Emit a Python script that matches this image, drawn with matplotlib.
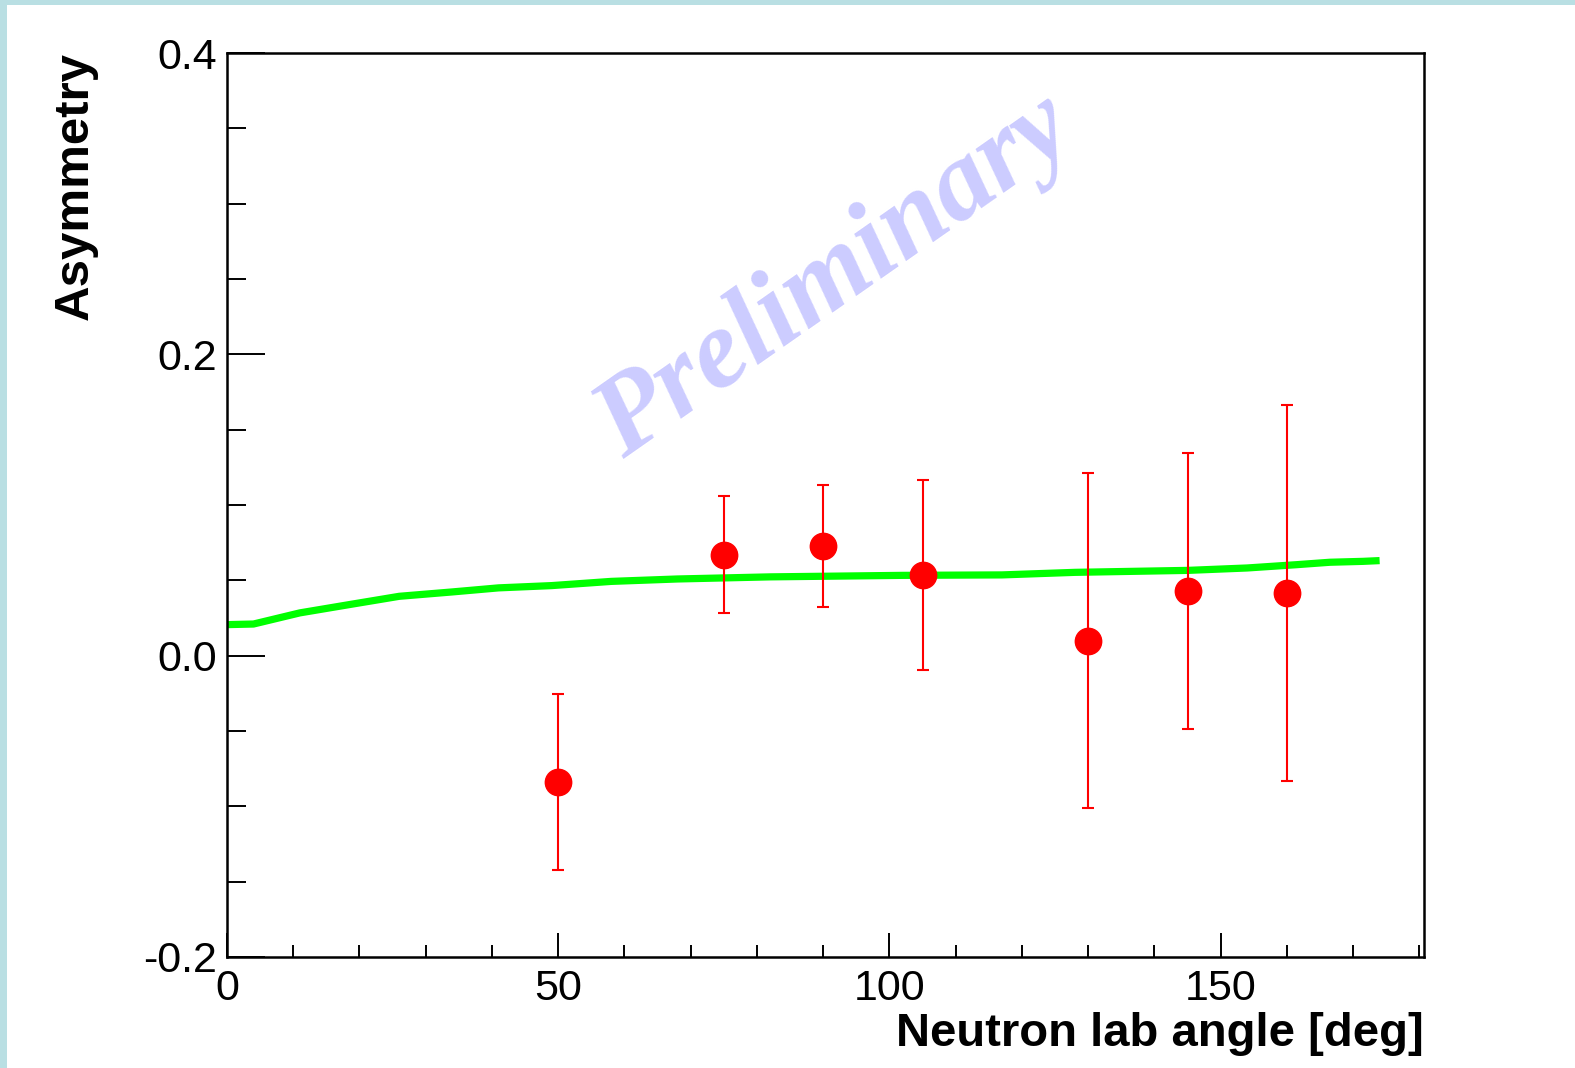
import matplotlib.pyplot as plt
from matplotlib.patches import Rectangle
from matplotlib.ticker import MultipleLocator

plt.rcParams['font.family'] = ['Liberation Sans', 'DejaVu Sans']

# measured asymmetry per neutron lab angle
angle = [50, 75, 90, 105, 130, 145, 160]
asym = [-0.084, 0.067, 0.073, 0.0533, 0.010, 0.0427, 0.0416]
asym_err = [0.0585, 0.039, 0.0405, 0.063, 0.111, 0.0916, 0.1246]

# calculation curve
calc_angle = [0, 4, 11, 18.6, 26, 34, 41, 49, 58, 68, 82, 102, 117, 128,
              145, 154, 161.5, 166.5, 171.5, 174]
calc_asym = [0.0206, 0.021, 0.0284, 0.034, 0.0394, 0.0423, 0.045, 0.0465,
             0.0493, 0.0509, 0.0523, 0.0533, 0.0536, 0.0553, 0.0566, 0.0582,
             0.0604, 0.062, 0.0626, 0.0631]

fig = plt.figure(figsize=(15.75, 10.68), dpi=100)
fig.patch.set_facecolor('white')
# light blue frame strips on top and left
fig.add_artist(Rectangle((0, 1 - 5 / 1068), 1, 5 / 1068, transform=fig.transFigure,
                         facecolor='#b9dfe3', edgecolor='none'))
fig.add_artist(Rectangle((0, 0), 7 / 1575, 1, transform=fig.transFigure,
                         facecolor='#b9dfe3', edgecolor='none'))

ax = fig.add_axes([227 / 1575, 1 - 957 / 1068, (1424 - 227) / 1575, (957 - 53) / 1068])

ax.plot(calc_angle, calc_asym, color='#00ff00', lw=5.2, solid_capstyle='butt', zorder=2)
ax.errorbar(angle, asym, yerr=asym_err, fmt='o', color='red', ecolor='red',
            markersize=19, elinewidth=1.5, capsize=4.2, capthick=1.5, zorder=3)

ax.text(91.8, 0.251, 'Preliminary', family='Liberation Serif', weight='bold',
        style='italic', fontsize=81, color='#ccccff', rotation=35,
        ha='center', va='center', zorder=1)

ax.set_xlim(0, 180.7)
ax.set_ylim(-0.2, 0.4)
ax.xaxis.set_major_locator(MultipleLocator(50))
ax.xaxis.set_minor_locator(MultipleLocator(10))
ax.yaxis.set_major_locator(MultipleLocator(0.2))
ax.yaxis.set_minor_locator(MultipleLocator(0.05))
ax.xaxis.set_major_formatter(plt.FuncFormatter(lambda v, p: f'{v:g}'))
ax.yaxis.set_major_formatter(plt.FuncFormatter(lambda v, p: f'{v:.1f}'))

ax.tick_params(axis='both', which='both', direction='in', top=False, right=False,
               width=1.4, labelsize=31)
ax.tick_params(axis='y', which='major', length=27, pad=7)
ax.tick_params(axis='y', which='minor', length=13.5)
ax.tick_params(axis='x', which='major', length=17, pad=9)
ax.tick_params(axis='x', which='minor', length=8.6)
for s in ax.spines.values():
    s.set_linewidth(1.8)

ax.set_xlabel('Neutron lab angle [deg]', fontsize=34, weight='bold')
ax.xaxis.set_label_coords(1.0, -0.061)
ax.xaxis.label.set_ha('right')
ax.set_ylabel('Asymmetry', fontsize=35.5, weight='bold')
ax.yaxis.set_label_coords(-0.127, 1.001)
ax.yaxis.label.set_va('center')
ax.yaxis.label.set_ha('right')

fig.savefig('out.png', dpi=100)
